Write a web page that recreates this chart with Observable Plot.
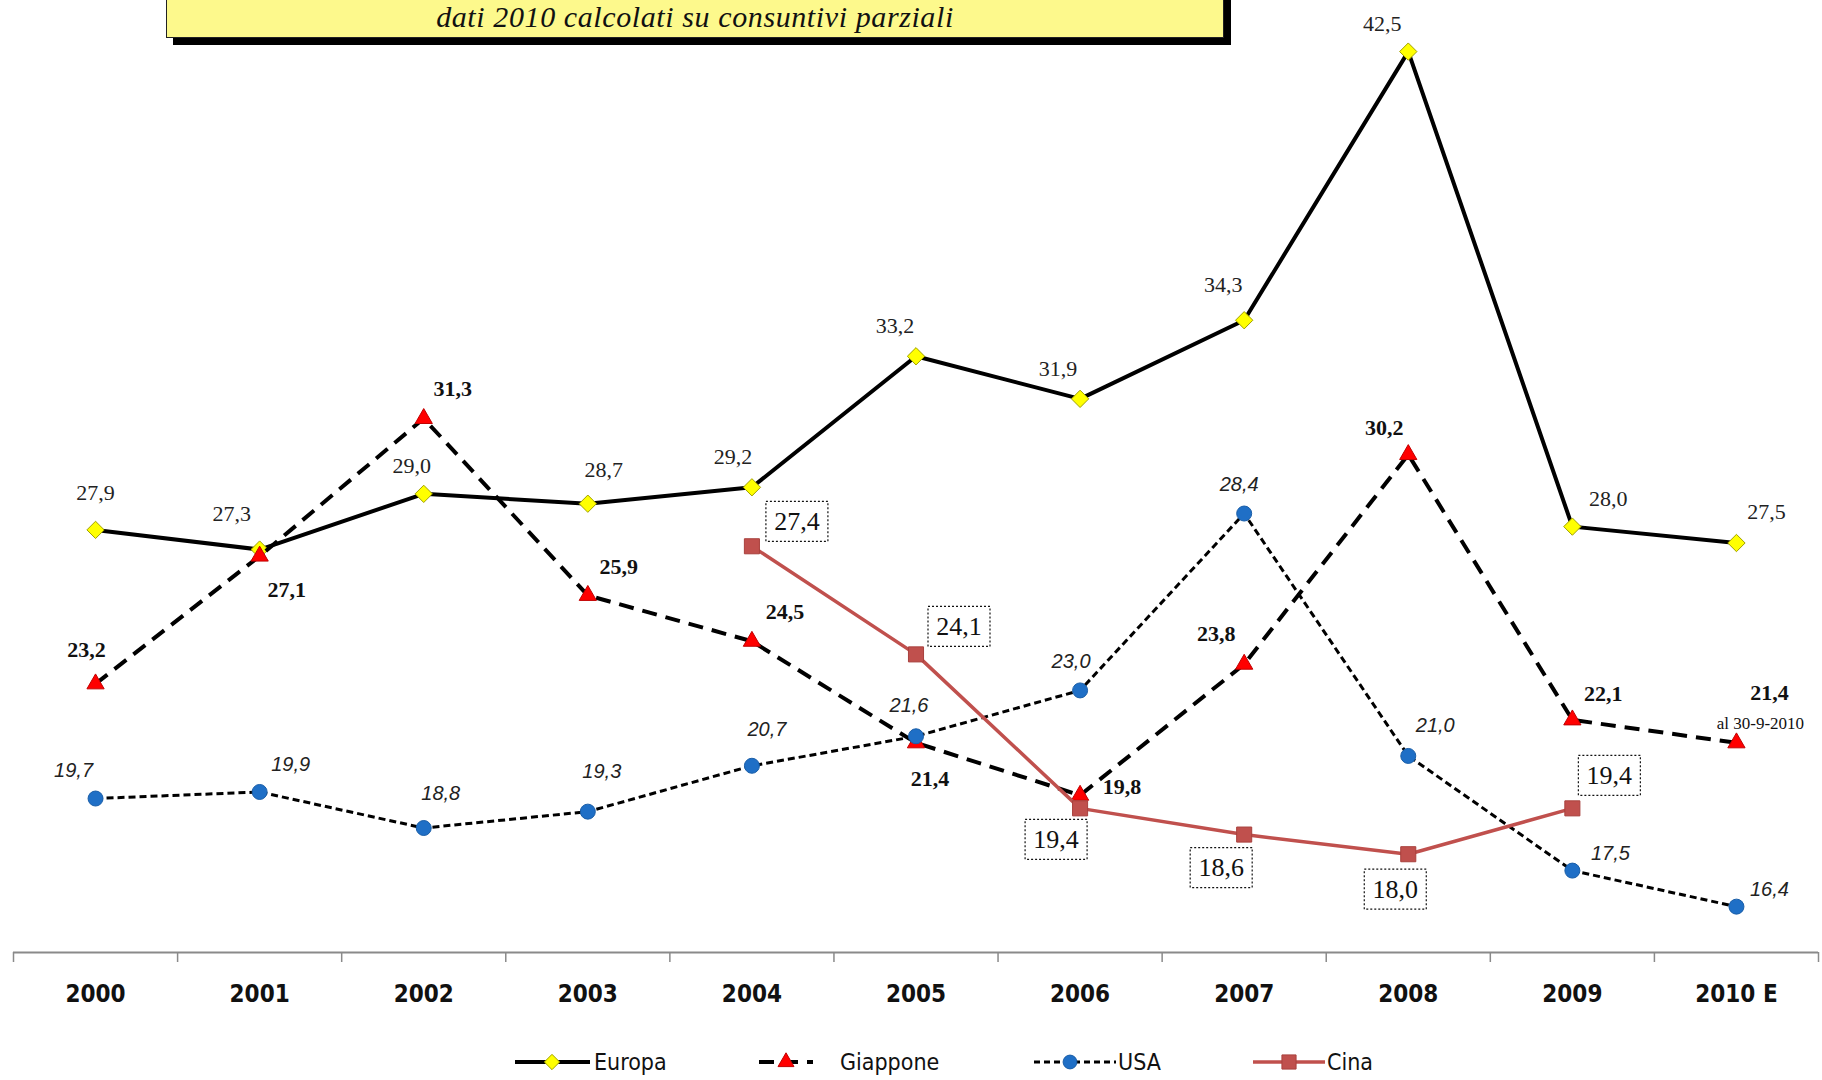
<!DOCTYPE html>
<html>
<head>
<meta charset="utf-8">
<script src="https://cdn.jsdelivr.net/npm/d3@7"></script>
<script src="https://cdn.jsdelivr.net/npm/@observablehq/plot@0.6"></script>
<style>
  body { margin: 0; background: #fff; }
  #wrap { position: relative; width: 1822px; height: 1080px; overflow: hidden; background: #fff; }
  #chart { position: absolute; left: 0; top: 0; }
  #title { position: absolute; left: 166px; top: -40px; width: 1058px; height: 78px; background: #fdf98c;
           border: 1px solid #222; box-shadow: 7px 7px 0 #000; box-sizing: border-box; z-index: 2; }
  #title .sub { position: absolute; left: 0; right: 0; bottom: 3px; line-height: 30px; text-align: center;
           font: italic 30px "Liberation Serif", serif; letter-spacing: 0.6px; color: #111; }
  #legend { position: absolute; left: 0; top: 1030px; width: 1822px; height: 64px; }
  #legend text { font-family: "DejaVu Sans Condensed", "DejaVu Sans", sans-serif; font-stretch: condensed; font-size: 23px; fill: #111; }
</style>
</head>
<body>
<div id="wrap">
  <div id="chart"></div>
  <div id="title"><div class="sub">dati 2010 calcolati su consuntivi parziali</div></div>
  <div id="legend"></div>
</div>
<script>
// ---- data ----
const categories = ["2000", "2001", "2002", "2003", "2004", "2005", "2006", "2007", "2008", "2009", "2010 E"];
const europa   = [27.9, 27.3, 29.0, 28.7, 29.2, 33.2, 31.9, 34.3, 42.5, 28.0, 27.5];
const giappone = [23.2, 27.1, 31.3, 25.9, 24.5, 21.4, 19.8, 23.8, 30.2, 22.1, 21.4];
const usa      = [19.7, 19.9, 18.8, 19.3, 20.7, 21.6, 23.0, 28.4, 21.0, 17.5, 16.4];
const cina     = [null, null, null, null, 27.4, 24.1, 19.4, 18.6, 18.0, 19.4, null];
const seriesNames = ["Europa", "Giappone", "USA", "Cina"];
const giapponeNote = "al 30-9-2010";

// ---- layout (label offsets in px, per point) ----
const europaOff   = [[0,-37],[-28,-36],[-12,-28],[16,-34],[-19,-30],[-21,-30],[-22,-30],[-21,-35],[-26,-28],[36,-28],[30,-31]];
const giapponeOff = [[-9,-34],[27,34],[29,-30],[31,-28],[33,-29],[14,36],[42,-8],[-28,-30],[-24,-27],[31,-26],[33,-50]];
const noteOff     = [24,-19];
const usaOff      = [[-22,-28],[31,-27],[17,-34],[14,-40],[15,-36],[-7,-31],[-9,-29],[-5,-29],[27,-30],[38,-17],[33,-17]];
const cinaOff     = [[45,-25],[43,-28],[-24,31],[-23,33],[-13,35],[37,-33]];

const idx = d3.range(categories.length);
const rows = (vals) => idx.filter(i => vals[i] != null).map(i => ({i, v: vals[i]}));
const fmt = (v) => d3.format(".1f")(v).replace(".", ",");

const E = rows(europa), G = rows(giappone), U = rows(usa), C = rows(cina);

const serif = "Liberation Serif, Times New Roman, serif";
const cond = "DejaVu Sans Condensed, DejaVu Sans, sans-serif";

function labels(data, offs, style) {
  return data.map((d, k) => Plot.text([d], {x: "i", y: "v", text: r => fmt(r.v), dx: offs[k][0], dy: offs[k][1], ...style}));
}

const boxSymbol = { draw(ctx) { ctx.moveTo(-31, -20); ctx.lineTo(31, -20); ctx.lineTo(31, 20); ctx.lineTo(-31, 20); ctx.closePath(); } };

const W = 1822, H = 1030, AXIS_Y = 952;
const chart = Plot.plot({
  width: W, height: H,
  marginLeft: 13, marginRight: 4, marginTop: 0, marginBottom: H - AXIS_Y,
  x: {type: "linear", domain: [-0.5, categories.length - 0.5]},
  y: {domain: [15, 44.06], axis: null},
  style: {background: "transparent", overflow: "visible"},
  marks: [
    Plot.ruleY([15], {stroke: "#8a8a8a", strokeWidth: 2}),
    Plot.axisX(d3.range(-0.5, categories.length, 1), {tickSize: 10, tickFormat: () => "", stroke: "#8a8a8a", strokeWidth: 1.5, label: null}),
    Plot.text(idx, {x: d => d, frameAnchor: "bottom", dy: 49, text: i => categories[i], fontFamily: cond, fontWeight: "bold", fontSize: 24, fill: "#111"}),

    Plot.line(E, {x: "i", y: "v", stroke: "#000", strokeWidth: 4, strokeLinecap: "butt"}),
    Plot.dot(E, {x: "i", y: "v", symbol: "diamond2", r: 7.8, fill: "#ffff00", stroke: "#a0a000", strokeWidth: 1}),

    Plot.line(G, {x: "i", y: "v", stroke: "#000", strokeWidth: 4, strokeDasharray: "15,9", strokeLinecap: "butt"}),
    Plot.dot(G, {x: "i", y: "v", symbol: "triangle", r: 6.4, fill: "#ff0000", stroke: "#c00000", strokeWidth: 1}),

    Plot.line(U, {x: "i", y: "v", stroke: "#000", strokeWidth: 3, strokeDasharray: "7,4", strokeLinecap: "butt"}),
    Plot.dot(U, {x: "i", y: "v", r: 7.5, fill: "#1f6fc6", stroke: "#1a5ea8", strokeWidth: 1}),

    Plot.line(C, {x: "i", y: "v", stroke: "#c0504d", strokeWidth: 3.5}),
    Plot.dot(C, {x: "i", y: "v", symbol: "square", r: 8.5, fill: "#c0504d", stroke: "#a8403d", strokeWidth: 1}),

    ...labels(E, europaOff, {fontFamily: serif, fontSize: 22, fill: "#222"}),
    ...labels(G, giapponeOff, {fontFamily: serif, fontSize: 22, fontWeight: "bold", fill: "#111"}),
    Plot.text([G[G.length - 1]], {x: "i", y: "v", text: () => giapponeNote, dx: noteOff[0], dy: noteOff[1], fontFamily: serif, fontSize: 17, fill: "#111"}),
    ...labels(U, usaOff, {fontFamily: "Liberation Sans, Arial, sans-serif", fontStyle: "italic", fontSize: 20, fill: "#222", ariaLabel: "usa-label"}),
    ...C.map((d, k) => Plot.dot([d], {x: "i", y: "v", symbol: boxSymbol, fill: "#fff", stroke: "#111", strokeWidth: 1.2, strokeDasharray: "2,2", dx: cinaOff[k][0], dy: cinaOff[k][1]})),
    ...labels(C, cinaOff, {fontFamily: serif, fontSize: 26, fill: "#111"})
  ]
});
document.getElementById("chart").appendChild(chart);
d3.select(chart).selectAll('g[aria-label="usa-label"] text').style("letter-spacing", "2px");

// ---- legend ----
const lg = d3.select("#legend").append("svg").attr("width", 1822).attr("height", 64);
const cy = 32;
const items = [
  {name: seriesNames[0], x1: 515, x2: 590, mx: 552, tx: 594, dash: null, w: 4, color: "#000", sym: d3.symbolDiamond2, size: 150, fill: "#ffff00", st: "#a0a000"},
  {name: seriesNames[1], x1: 759, x2: 813, mx: 786, tx: 840, dash: "15,9", w: 4, color: "#000", sym: d3.symbolTriangle, size: 110, fill: "#ff0000", st: "#c00000"},
  {name: seriesNames[2], x1: 1034, x2: 1116, mx: 1070, tx: 1118, dash: "6,4", w: 3, color: "#000", sym: d3.symbolCircle, size: 150, fill: "#1f6fc6", st: "#1a5ea8"},
  {name: seriesNames[3], x1: 1253, x2: 1325, mx: 1289, tx: 1327, dash: null, w: 3.5, color: "#c0504d", sym: d3.symbolSquare, size: 200, fill: "#c0504d", st: "#a8403d"}
];
for (const it of items) {
  lg.append("line").attr("x1", it.x1).attr("x2", it.x2).attr("y1", cy).attr("y2", cy)
    .attr("stroke", it.color).attr("stroke-width", it.w).attr("stroke-dasharray", it.dash);
  lg.append("path").attr("d", d3.symbol(it.sym, it.size)()).attr("transform", `translate(${it.mx},${cy})`)
    .attr("fill", it.fill).attr("stroke", it.st);
  lg.append("text").attr("x", it.tx).attr("y", cy).attr("dy", "0.35em").text(it.name);
}
</script>
</body>
</html>
